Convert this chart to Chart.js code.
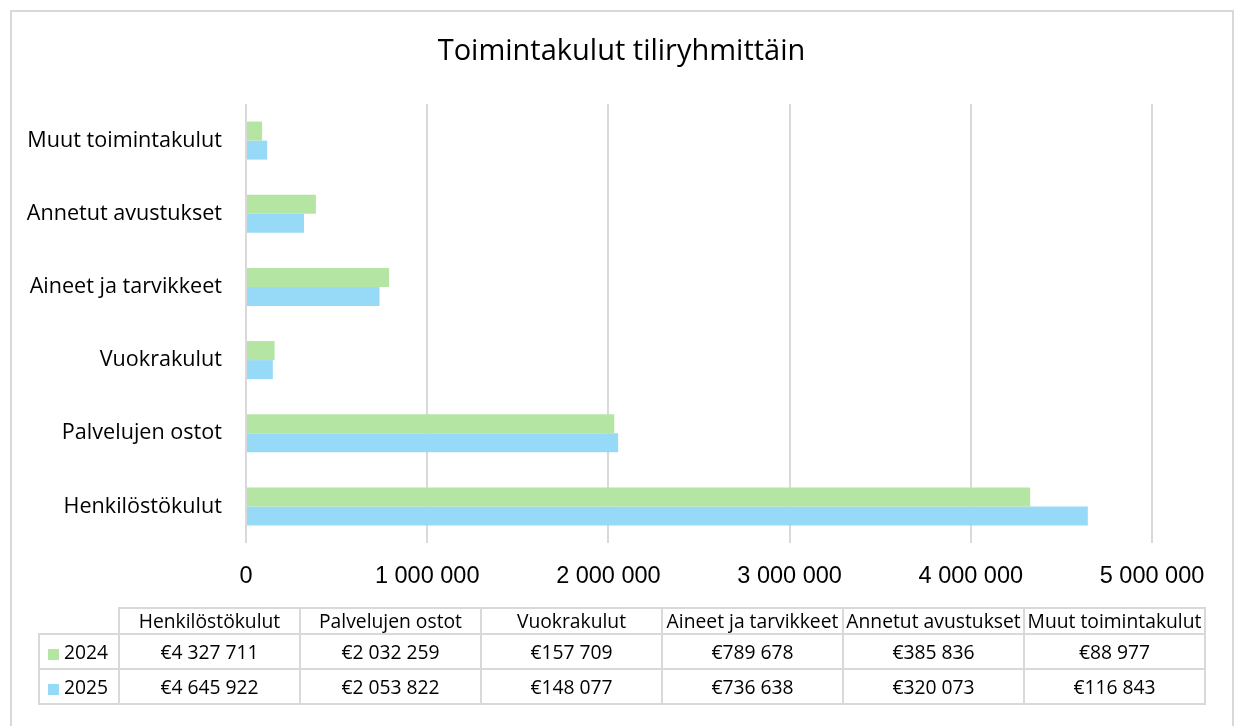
<!DOCTYPE html>
<html>
<head>
<meta charset="utf-8">
<script src="https://cdn.jsdelivr.net/npm/chart.js@4.4.1/dist/chart.umd.min.js"></script>
<style>
  html, body { margin: 0; padding: 0; background: #fff; }
  #wrap { position: relative; width: 1237px; height: 726px; overflow: hidden; }
  #frame { position: absolute; left: 10px; top: 10px; width: 1224px; height: 730px; border: 2px solid #d9d9d9; box-sizing: border-box; }
  canvas { position: absolute; left: 0; top: 0; }
  #tbl { position: absolute; left: 38px; top: 607px; border-collapse: collapse; font-family: "Open Sans", sans-serif; font-size: 19.3px; color: #000; }
  #tbl td { border: 2px solid #d9d9d9; padding: 0; text-align: center; white-space: nowrap; overflow: visible; }
  #tbl tr.hdr td { height: 24px; line-height: 24px; }
  #tbl tr.row td { height: 33px; line-height: 33px; }
  #tbl td.corner { border-top: none; border-left: none; }
  #tbl td.first { width: 78px; text-align: left; }
  #tbl td.col { width: 179px; }
  .sw { display: inline-block; width: 11px; height: 11px; margin-left: 8px; margin-right: 5px; vertical-align: -1px; }
</style>
</head>
<body>
<div id="wrap">
  <div id="frame"></div>
  <canvas id="c" width="1237" height="726"></canvas>
  <table id="tbl"></table>
</div>
<script>
const categories = ["Henkilöstökulut", "Palvelujen ostot", "Vuokrakulut", "Aineet ja tarvikkeet", "Annetut avustukset", "Muut toimintakulut"];
const seriesNames = ["2024", "2025"];
const values2024 = [4327711, 2032259, 157709, 789678, 385836, 88977];
const values2025 = [4645922, 2053822, 148077, 736638, 320073, 116843];
const xTicks = [0, 1000000, 2000000, 3000000, 4000000, 5000000];
const colors = ["#b5e5a2", "#97daf7"];
const titleText = "Toimintakulut tiliryhmittäin";

function fmt(n) { return String(n).replace(/\B(?=(\d{3})+(?!\d))/g, " "); }

const titlePlugin = {
  id: 'customTitle',
  afterDraw(chart) {
    const ctx = chart.ctx;
    ctx.save();
    ctx.font = '29px "Open Sans", sans-serif';
    ctx.fillStyle = '#000';
    ctx.textAlign = 'center';
    ctx.textBaseline = 'middle';
    ctx.fillText(titleText, chart.width / 2 + 3, 52);
    ctx.restore();
  }
};

new Chart(document.getElementById('c'), {
  type: 'bar',
  data: {
    labels: categories,
    datasets: [
      { label: seriesNames[0], data: values2024, backgroundColor: colors[0], borderWidth: 0, categoryPercentage: 0.52, barPercentage: 1.0 },
      { label: seriesNames[1], data: values2025, backgroundColor: colors[1], borderWidth: 0, categoryPercentage: 0.52, barPercentage: 1.0 }
    ]
  },
  options: {
    indexAxis: 'y',
    responsive: false,
    animation: false,
    devicePixelRatio: 1,
    layout: { padding: { left: 10, right: 85, top: 104, bottom: 123 } },
    plugins: { legend: { display: false }, title: { display: false }, tooltip: { enabled: false } },
    scales: {
      x: {
        min: 0, max: 5000000,
        afterBuildTicks(scale) { scale.ticks = xTicks.map(v => ({ value: v })); },
        afterFit(scale) { scale.height = 60; },
        grid: { color: '#d9d9d9', lineWidth: 2, drawTicks: false },
        border: { display: false },
        ticks: { padding: 19, color: '#000', font: { family: '"Liberation Sans", Arial, sans-serif', size: 23.5 }, callback: v => fmt(v), maxRotation: 0, autoSkip: false }
      },
      y: {
        reverse: true,
        afterFit(scale) { scale.width = 236; },
        grid: { display: false, drawTicks: false },
        border: { display: false },
        ticks: { padding: 24, color: '#000', font: { family: '"Open Sans", sans-serif', size: 21.6 } }
      }
    }
  },
  plugins: [titlePlugin]
});

// data table
const tbl = document.getElementById('tbl');
let html = '<tr class="hdr"><td class="corner first"></td>' + categories.map(c => '<td class="col">' + c + '</td>').join('') + '</tr>';
[values2024, values2025].forEach((vals, i) => {
  html += '<tr class="row"><td class="first"><span class="sw" style="background:' + colors[i] + '"></span>' + seriesNames[i] + '</td>' +
    vals.map(v => '<td class="col">€' + fmt(v) + '</td>').join('') + '</tr>';
});
tbl.innerHTML = html;
</script>
</body>
</html>
